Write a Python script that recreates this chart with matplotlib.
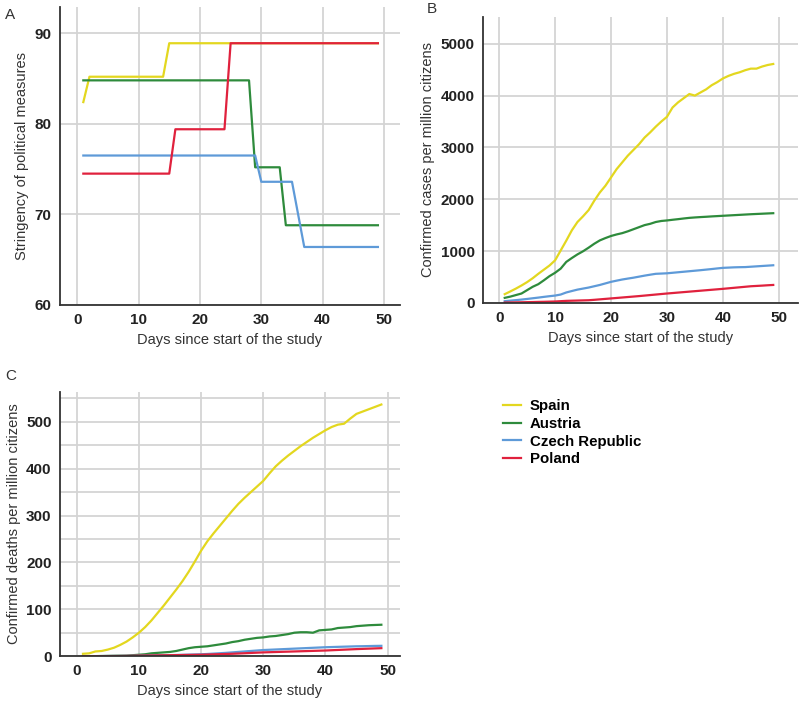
import numpy as np
import matplotlib
matplotlib.use('Agg')
import matplotlib.pyplot as plt
from matplotlib.ticker import MultipleLocator

plt.rcParams['font.family'] = ['Liberation Sans', 'DejaVu Sans']

days = np.arange(1, 50)
countries = ['Spain', 'Austria', 'Czech Republic', 'Poland']
colors = ['#e3d71f', '#2e8b3c', '#5e9ad8', '#e0213d']

# stringency index (step functions)
str_spain = [82.4] + [85.2] * 13 + [88.9] * 35
str_austria = [84.8] * 28 + [75.2] * 5 + [68.8] * 16
str_czech = [76.5] * 29 + [73.6] * 6 + [70.0] + [66.4] * 13
str_poland = [74.5] * 15 + [79.4] * 9 + [88.9] * 25

# confirmed cases per million
cases_spain = [167, 220, 275, 335, 400, 475, 560, 640, 720, 820,
               1010, 1200, 1400, 1560, 1670, 1790, 1970, 2130, 2260, 2420,
               2580, 2710, 2840, 2950, 3060, 3190, 3290, 3400, 3500, 3590,
               3770, 3870, 3950, 4030, 4000, 4060, 4120, 4200, 4260, 4330,
               4380, 4420, 4450, 4490, 4520, 4520, 4560, 4590, 4610]
cases_austria = [96, 120, 150, 180, 245, 310, 360, 435, 515, 580,
                 660, 790, 865, 935, 995, 1065, 1140, 1205, 1250, 1290,
                 1320, 1345, 1380, 1420, 1460, 1500, 1525, 1560, 1580, 1590,
                 1603, 1615, 1628, 1640, 1648, 1655, 1661, 1668, 1674, 1680,
                 1686, 1692, 1698, 1704, 1710, 1715, 1720, 1725, 1730]
cases_czech = [32, 42, 52, 63, 75, 88, 101, 115, 128, 140,
               160, 200, 228, 255, 275, 295, 320, 345, 375, 405,
               428, 450, 468, 485, 505, 525, 543, 560, 565, 570,
               580, 590, 600, 610, 620, 630, 641, 652, 664, 675,
               680, 685, 688, 690, 697, 704, 711, 718, 725]
cases_poland = [5, 7, 9, 11, 13, 15, 18, 20, 23, 26,
                32, 38, 41, 44, 47, 50, 58, 67, 76, 85,
                94, 103, 112, 121, 130, 140, 150, 160, 170, 180,
                189, 198, 207, 216, 225, 234, 243, 252, 261, 270,
                280, 290, 300, 310, 320, 326, 332, 339, 345]

# confirmed deaths per million
deaths_spain = [5, 6, 10, 11, 14, 18, 24, 31, 40, 50,
                62, 76, 92, 108, 125, 142, 160, 180, 202, 225,
                245, 262, 278, 294, 310, 325, 338, 350, 362, 374,
                390, 405, 417, 428, 438, 448, 457, 466, 474, 482,
                489, 494, 496, 507, 517, 522, 527, 532, 537]
deaths_austria = [0, 0, 0, 0.3, 0.5, 0.7, 0.9, 1, 2, 3,
                  4, 6, 7, 8, 9, 11, 14, 17, 19, 20,
                  21, 23, 25, 27, 30, 32, 35, 37, 39, 40,
                  42, 43, 45, 47, 50, 51, 51, 50, 55, 56,
                  57, 60, 61, 62, 64, 65, 66, 66.5, 67]
deaths_czech = [0, 0, 0, 0, 0.2, 0.3, 0.4, 0.6, 0.8, 1,
                1.2, 1.4, 1.6, 1.8, 2, 2.4, 2.8, 3.2, 3.6, 4,
                4.6, 5.4, 6.2, 7, 8, 9, 10, 11, 12, 13,
                13.6, 14.2, 14.8, 15.4, 16, 16.6, 17.2, 17.8, 18.4, 19,
                19.4, 19.8, 20.2, 20.6, 21, 21.2, 21.5, 21.8, 22]
deaths_poland = [0, 0, 0, 0, 0.1, 0.2, 0.3, 0.5, 0.7, 1,
                 1.2, 1.4, 1.6, 1.8, 2, 2.2, 2.4, 2.6, 2.8, 3,
                 3.4, 3.8, 4.2, 4.6, 5, 5.6, 6.2, 6.8, 7.4, 8,
                 8.4, 8.8, 9.2, 9.6, 10, 10.4, 10.8, 11.2, 11.6, 12,
                 12.6, 13.2, 13.8, 14.4, 15, 15.5, 16, 16.5, 17]

stringency = [str_spain, str_austria, str_czech, str_poland]
cases = [cases_spain, cases_austria, cases_czech, cases_poland]
deaths = [deaths_spain, deaths_austria, deaths_czech, deaths_poland]

xlabel = 'Days since start of the study'


def style_axis(ax, ylabel):
    for side in ['top', 'right']:
        ax.spines[side].set_visible(False)
    for side in ['left', 'bottom']:
        ax.spines[side].set_color('#333333')
        ax.spines[side].set_linewidth(1.3)
    ax.grid(True, which='both', color='#d4d4d4', linewidth=1.3)
    ax.set_axisbelow(True)
    ax.tick_params(which='both', length=0, labelsize=11, pad=6, colors='#222222')
    for lbl in ax.get_xticklabels() + ax.get_yticklabels():
        lbl.set_fontweight('bold')
    ax.set_xlabel(xlabel, fontsize=10.5, color='#333333')
    ax.set_ylabel(ylabel, fontsize=10.5, color='#333333')
    ax.xaxis.set_major_locator(MultipleLocator(10))


fig = plt.figure(figsize=(8, 7.01), dpi=100)

axA = fig.add_axes([0.075, 0.565, 0.425, 0.425])
for vals, c in zip(stringency, colors):
    axA.plot(days, vals, color=c, lw=1.6)
axA.set_xlim(-2.8, 52.6)
axA.set_ylim(60, 92.9)
axA.yaxis.set_major_locator(MultipleLocator(10))
style_axis(axA, 'Stringency of political measures')

axB = fig.add_axes([0.604, 0.568, 0.394, 0.408])
for vals, c in zip(cases, colors):
    axB.plot(days, vals, color=c, lw=1.6)
axB.set_xlim(-2.85, 53.5)
axB.set_ylim(0, 5520)
axB.yaxis.set_major_locator(MultipleLocator(1000))
style_axis(axB, 'Confirmed cases per million citizens')

axC = fig.add_axes([0.075, 0.064, 0.425, 0.377])
lines = []
for vals, c, name in zip(deaths, colors, countries):
    ln, = axC.plot(days, vals, color=c, lw=1.6, label=name)
    lines.append(ln)
axC.set_xlim(-2.7, 52)
axC.set_ylim(0, 564)
axC.yaxis.set_major_locator(MultipleLocator(100))
axC.yaxis.set_minor_locator(MultipleLocator(50))
style_axis(axC, 'Confirmed deaths per million citizens')

fig.legend(handles=lines, labels=countries, loc='upper left',
           bbox_to_anchor=(0.612, 0.45), frameon=False, handlelength=1.2,
           handletextpad=0.6, labelspacing=0.25,
           prop={'weight': 'bold', 'size': 10.8})

fig.text(0.006, 0.988, 'A', fontsize=11, color='#333333', va='top')
fig.text(0.533, 0.997, 'B', fontsize=11, color='#333333', va='top')
fig.text(0.006, 0.473, 'C', fontsize=11, color='#333333', va='top')

fig.savefig('out.png', dpi=100)
